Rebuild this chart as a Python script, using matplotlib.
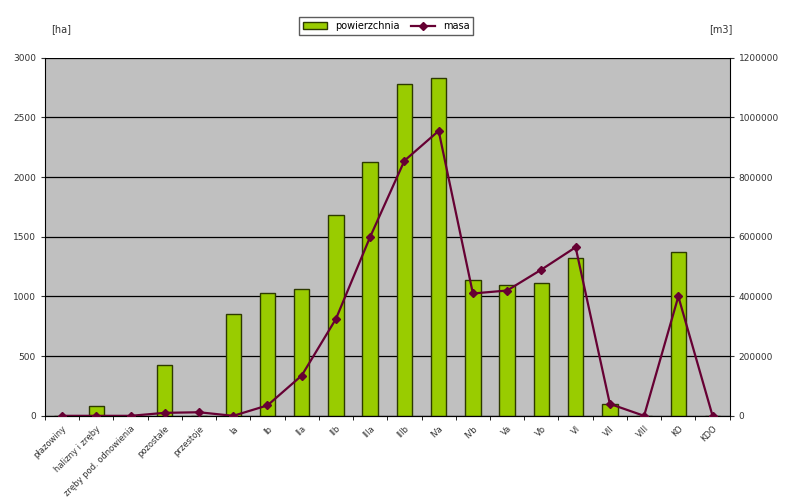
import matplotlib.pyplot as plt
import matplotlib.ticker as mticker
import numpy as np

categories = ["płazowiny", "halizny i zręby", "zręby pod. odnowienia", "pozostałe",
              "przestoje", "Ia", "Ib", "IIa", "IIb", "IIIa", "IIIb", "IVa", "IVb",
              "Va", "Vb", "VI", "VII", "VIII", "KO", "KDO"]
powierzchnia = [0, 80, 0, 430, 0, 850, 1030, 1060, 1680, 2130, 2780, 2830,
                1140, 1100, 1110, 1320, 100, 0, 1370, 0]
masa = [0, 0, 0, 10000, 12000, 0, 35000, 135000, 325000, 600000, 855000,
        955000, 410000, 420000, 490000, 565000, 40000, 0, 400000, 0]

fig = plt.figure(figsize=(7.88, 4.98), dpi=100)
ax = fig.add_axes([0.057, 0.165, 0.869, 0.719])
ax.set_facecolor("#c0c0c0")

x = np.arange(len(categories))
bars = ax.bar(x, powierzchnia, width=0.45, color="#99cc00",
              edgecolor="#2d3a00", linewidth=1.0, label="powierzchnia", zorder=3)
ax.set_ylim(0, 3000)
ax.set_yticks(range(0, 3001, 500))
ax.set_xlim(-0.5, len(categories) - 0.5)
ax.yaxis.grid(True, color="black", linewidth=0.9, zorder=1)
ax.set_axisbelow(True)
ax.set_xticks(x)
ax.set_xticklabels(categories, rotation=45, ha="right", rotation_mode="anchor",
                   fontsize=6, color="#333333")
ax.set_xticks(np.arange(-0.5, len(categories), 1), minor=True)
ax.tick_params(axis="x", which="major", length=0, pad=6)
ax.tick_params(axis="x", which="minor", length=3)
ax.tick_params(axis="y", labelsize=6.5, length=3, colors="#333333")
for s in ["top", "right"]:
    ax.spines[s].set_visible(False)

ax2 = ax.twinx()
line, = ax2.plot(x, masa, color="#660033", marker="D", markersize=4.5,
                 linewidth=1.6, label="masa", zorder=4)
ax2.set_ylim(0, 1200000)
ax2.set_yticks(range(0, 1200001, 200000))
ax2.yaxis.set_major_formatter(mticker.FuncFormatter(lambda v, p: "%d" % v))
ax2.tick_params(axis="y", labelsize=6.5, length=3, colors="#333333")
for s in ["top", "left"]:
    ax2.spines[s].set_visible(False)

fig.text(0.065, 0.935, "[ha]", fontsize=7, color="#333333")
fig.text(0.9, 0.935, "[m3]", fontsize=7, color="#333333")

fig.legend(handles=[bars, line], loc="upper center", bbox_to_anchor=(0.49, 0.975),
           ncol=2, fontsize=7, frameon=True, fancybox=False, edgecolor="#333333",
           handlelength=2.5, columnspacing=1.2, borderpad=0.4)

plt.savefig("out.png", dpi=100)
